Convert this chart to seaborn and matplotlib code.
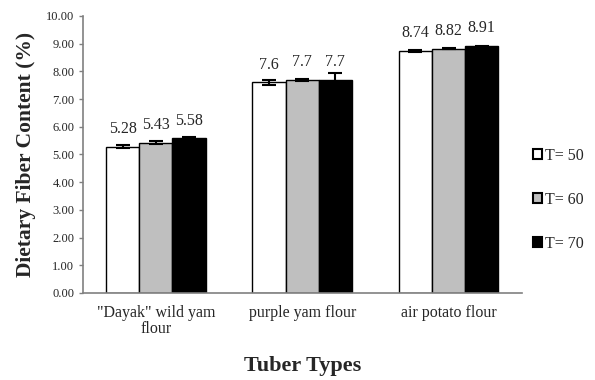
import matplotlib
matplotlib.use("Agg")
import matplotlib.pyplot as plt
import seaborn as sns
import pandas as pd
import numpy as np

categories = ['"Dayak" wild yam\nflour', 'purple yam flour', 'air potato flour']
series = ['T= 50', 'T= 60', 'T= 70']
values_t50 = [5.28, 7.60, 8.74]
values_t60 = [5.43, 7.70, 8.82]
values_t70 = [5.58, 7.70, 8.91]
err_t50 = [0.05, 0.08, 0.03]
err_t60 = [0.04, 0.03, 0.02]
err_t70 = [0.04, 0.25, 0.02]
labels_t50 = ["5.28", "7.6", "8.74"]
labels_t60 = ["5.43", "7.7", "8.82"]
labels_t70 = ["5.58", "7.7", "8.91"]
y_ticks = [0, 1, 2, 3, 4, 5, 6, 7, 8, 9, 10]

vals = [values_t50, values_t60, values_t70]
errs = [err_t50, err_t60, err_t70]
labs = [labels_t50, labels_t60, labels_t70]

rows = []
for s, v in zip(series, vals):
    for c, y in zip(categories, v):
        rows.append({"cat": c, "series": s, "val": y})
df = pd.DataFrame(rows)

sns.set_style("white")
plt.rcParams['font.family'] = ['Liberation Serif', 'DejaVu Serif']

fig = plt.figure(figsize=(5.95, 3.8), dpi=100)
ax = fig.add_axes([0.139, 0.229, 0.738, 0.729])

palette = {"T= 50": "white", "T= 60": "#bfbfbf", "T= 70": "black"}
sns.barplot(data=df, x="cat", y="val", hue="series", order=categories,
            hue_order=series, palette=palette, errorbar=None, width=0.68,
            edgecolor="black", linewidth=1.0, ax=ax)

for cont, e, lb in zip(ax.containers, errs, labs):
    xs = [p.get_x() + p.get_width() / 2 for p in cont.patches]
    hs = [p.get_height() for p in cont.patches]
    ax.errorbar(xs, hs, yerr=e, fmt="none", ecolor="black", elinewidth=1.5,
                capsize=5, capthick=1.5, zorder=5)
    ax.bar_label(cont, labels=lb, padding=7, fontsize=11.5)

ax.set_xlim(-0.5, 2.5)
ax.set_ylim(0, 10)
ax.set_yticks(y_ticks)
ax.set_yticklabels([f"{t:.2f}" for t in y_ticks], fontsize=9)
ax.tick_params(axis="x", labelsize=11.5, length=0, pad=9)
for t in ax.get_xticklabels():
    t.set_linespacing(0.95)
ax.tick_params(axis="y", length=3, width=1, color="#808080", left=True, pad=3)

for sp in ["top", "right"]:
    ax.spines[sp].set_visible(False)
for sp in ["left", "bottom"]:
    ax.spines[sp].set_color("#808080")
    ax.spines[sp].set_linewidth(1.2)

ax.set_ylabel("Dietary Fiber Content (%)", fontsize=15.5, fontweight="bold", labelpad=7)
ax.set_xlabel("Tuber Types", fontsize=16, fontweight="bold", labelpad=14)

leg = ax.legend(loc="center left", bbox_to_anchor=(1.01, 0.336), frameon=False,
                fontsize=11.5, handlelength=0.6, handleheight=0.6,
                handletextpad=0.15, labelspacing=1.75, borderaxespad=0)
for h in leg.legend_handles:
    h.set_edgecolor("black")
    h.set_linewidth(1.5)

fig.savefig("out.png", dpi=100)
